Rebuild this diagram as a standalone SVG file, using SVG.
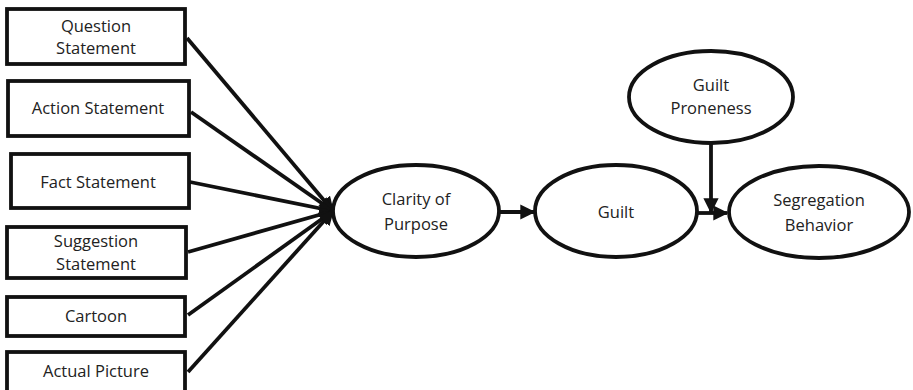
<svg xmlns="http://www.w3.org/2000/svg" width="913" height="390" viewBox="0 0 913 390">
<defs>
<marker id="ah" viewBox="0 0 10 10" refX="9" refY="5" markerWidth="4" markerHeight="4" orient="auto" markerUnits="strokeWidth">
<path d="M0,0 L10,5 L0,10 z" fill="#111"/>
</marker>
</defs>
<style>
.box{fill:#fff;stroke:#111;stroke-width:3.8}
.ell{fill:#fff;stroke:#111;stroke-width:3.8}
.lbl{font-family:"Open Sans","Liberation Sans",sans-serif;font-size:16.5px;fill:#222;text-anchor:middle}
.con{stroke:#111;stroke-width:3.8;fill:none;marker-end:url(#ah)}
</style>
<rect width="913" height="390" fill="#fff"/>
<g id="connectors">
<line class="con" x1="187" y1="38" x2="333" y2="211"/>
<line class="con" x1="191" y1="112" x2="333" y2="211"/>
<line class="con" x1="190" y1="182" x2="333" y2="211"/>
<line class="con" x1="188" y1="252" x2="333" y2="211"/>
<line class="con" x1="188" y1="315" x2="333" y2="211"/>
<line class="con" x1="188" y1="372" x2="333" y2="211"/>
<line class="con" x1="499" y1="212" x2="534" y2="212"/>
<line class="con" x1="698" y1="213" x2="727" y2="213"/>
<line class="con" x1="711" y1="144" x2="711" y2="212"/>
</g>
<g id="question"><rect class="box" x="7" y="9" width="178" height="55"/><text class="lbl" x="96" y="32">Question</text><text class="lbl" x="96" y="54">Statement</text></g>
<g id="action"><rect class="box" x="8" y="81" width="181" height="55"/><text class="lbl" x="98" y="114">Action Statement</text></g>
<g id="fact"><rect class="box" x="11" y="154" width="178" height="54"/><text class="lbl" x="98" y="188">Fact Statement</text></g>
<g id="suggestion"><rect class="box" x="7" y="227" width="179" height="51"/><text class="lbl" x="96" y="247">Suggestion</text><text class="lbl" x="96" y="270">Statement</text></g>
<g id="cartoon"><rect class="box" x="7" y="297" width="178" height="39"/><text class="lbl" x="96" y="322">Cartoon</text></g>
<g id="picture"><rect class="box" x="7" y="352" width="178" height="40"/><text class="lbl" x="96" y="377">Actual Picture</text></g>
<g id="clarity"><ellipse class="ell" cx="416" cy="211" rx="83" ry="46"/><text class="lbl" x="416" y="205">Clarity of</text><text class="lbl" x="416" y="230">Purpose</text></g>
<g id="guilt"><ellipse class="ell" cx="616" cy="211" rx="81" ry="46"/><text class="lbl" x="616" y="218">Guilt</text></g>
<g id="proneness"><ellipse class="ell" cx="711" cy="97" rx="82" ry="46"/><text class="lbl" x="711" y="91">Guilt</text><text class="lbl" x="711" y="114">Proneness</text></g>
<g id="segregation"><ellipse class="ell" cx="819" cy="212" rx="90" ry="46"/><text class="lbl" x="819" y="206">Segregation</text><text class="lbl" x="819" y="231">Behavior</text></g>
</svg>
